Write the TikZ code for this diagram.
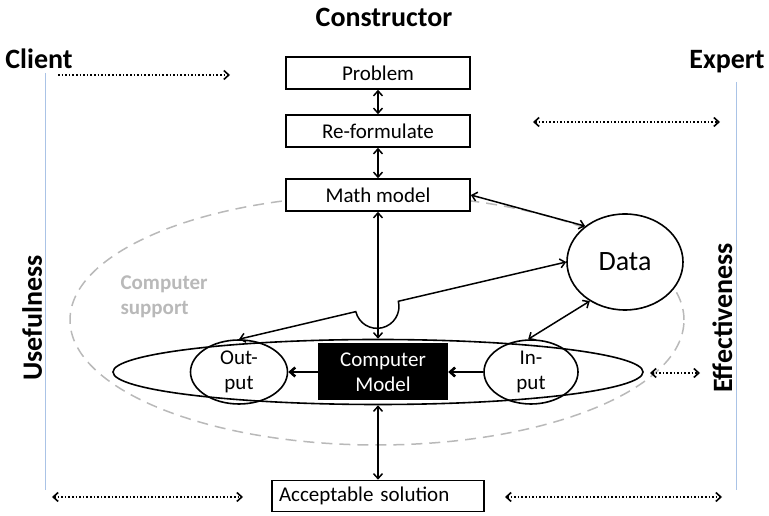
\documentclass[tikz,border=0pt]{standalone}
\usepackage{fontspec}
\setmainfont{Carlito}
\usetikzlibrary{arrows.meta,shapes.geometric,calc}

\definecolor{supportgrey}{RGB}{185,185,185}
\definecolor{sideblue}{RGB}{170,195,230}

\begin{document}
\begin{tikzpicture}[x=1pt,y=1pt,
    >={Straight Barb[length=5pt,width=9pt]},
    font=\fontsize{21}{25}\selectfont,
    stepbox/.style={draw,line width=1.6pt,minimum width=184pt,minimum height=32pt,inner sep=2pt},
    blob/.style={draw,ellipse,line width=1.6pt,inner sep=0pt},
    link/.style={<->,line width=1.5pt},
    flow/.style={->,line width=2.6pt},
    dots/.style={dotted,line width=1.6pt},
    side/.style={font=\fontsize{28}{32}\selectfont\bfseries}]
  \useasboundingbox (0,0) rectangle (769,516);
  % headings and side bars
  \node[side,anchor=base] (constructor) at (384,489) {Constructor};
  \node[side,anchor=base] (client) at (39,447) {Client};
  \node[side,anchor=base] (expert) at (727,447) {Expert};
  \node[side,rotate=90,anchor=base] (useful) at (42,198) {Usefulness};
  \node[side,rotate=90,anchor=base] (effect) at (732,198) {Effectiveness};
  \draw[sideblue,line width=.8pt] (45,443) -- (45,26);
  \draw[sideblue,line width=.8pt] (736,434) -- (736,26);
  % computer support region
  \node[draw=supportgrey,dash pattern=on 11pt off 7pt,line width=1.5pt,ellipse,
        minimum width=614pt,minimum height=250pt] (support) at (377,196) {};
  \node[anchor=west,align=left,text=supportgrey,font=\fontsize{21}{25}\selectfont\bfseries]
        (supportlbl) at (117,219) {Computer\\support};
  % chain of steps
  \node[stepbox] (problem) at (378,443) {Problem};
  \node[stepbox] (reform) at (378,385) {Re-formulate};
  \node[stepbox,fill=white] (math) at (378,321) {Math model};
  \node[blob,fill=white,minimum width=116pt,minimum height=96pt,font=\fontsize{28}{32}\selectfont] (data) at (625,254) {Data};
  \node[blob,fill=white,minimum width=530pt,minimum height=65pt] (tray) at (378,144) {};
  \node[blob,minimum width=97pt,minimum height=64pt,align=center] (outp) at (239,144) {Out-\\put};
  \node[blob,minimum width=94pt,minimum height=64pt,align=center] (inp) at (531,144) {In-\\put};
  \node[fill=black,text=white,minimum width=130pt,minimum height=57pt,align=center] (cm) at (383,144) {Computer\\Model};
  \node[stepbox,minimum width=212pt,minimum height=31pt,text width=198pt,align=left] (accept) at (378,20) {Acceptable solution};
  % connectors
  \draw[link] (problem) -- (reform);
  \draw[link] (reform) -- (math);
  \draw[link] (math.south) -- (tray.north);
  \draw[link] (math.east) -- (data.138);
  \draw[link] (data.228) -- (inp.95);
  \draw[link] (tray.south) -- (accept.north);
  \draw[flow] (inp) -- (cm);
  \draw[flow] (cm) -- (outp);
  \coordinate (hopa) at ($(outp.north)!0.357!(data.west)$);
  \draw[link] (outp.north) -- (hopa)
    arc[start angle=193.7,end angle=373.7,radius=21.9pt] -- (data.west);
  % dotted arrows
  \coordinate (ca) at (58,441);  \coordinate (cb) at (230,441);
  \coordinate (ea) at (533,394); \coordinate (eb) at (720,394);
  \coordinate (ra) at (650,143); \coordinate (rb) at (700,143);
  \coordinate (la) at (52,19);   \coordinate (lb) at (243,19);
  \coordinate (sa) at (505,19);  \coordinate (sb) at (722,19);
  \draw[dots,->] (ca) -- (cb);
  \draw[dots,<->] (ea) -- (eb);
  \draw[dots,<->] (ra) -- (rb);
  \draw[dots,<->] (la) -- (lb);
  \draw[dots,<->] (sa) -- (sb);
\end{tikzpicture}
\end{document}
